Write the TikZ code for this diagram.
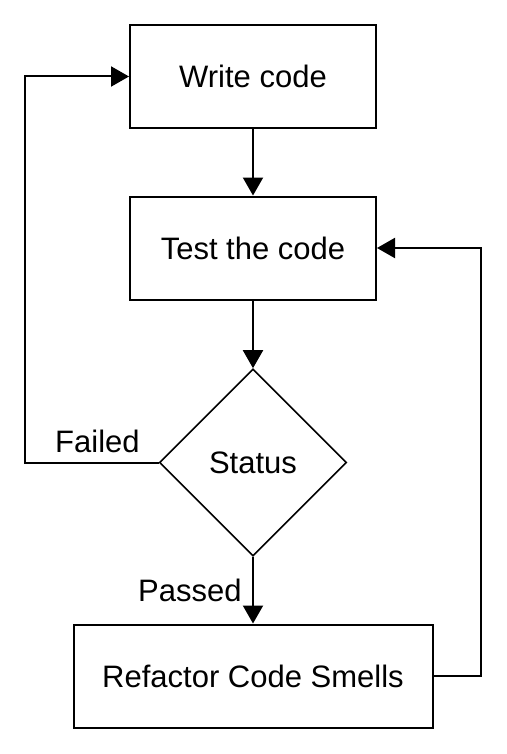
\documentclass[tikz,border=0pt]{standalone}
\usepackage{fontspec}
\setmainfont{Liberation Sans}
\usetikzlibrary{shapes.geometric,arrows.meta}
\begin{document}
\begin{tikzpicture}[x=1pt,y=-1pt,
  txt/.style={font=\fontsize{31}{36}\selectfont},
  box/.style={txt,draw,line width=2pt,minimum width=246pt,minimum height=103pt,inner sep=0pt},
  dia/.style={txt,draw,diamond,line width=1.6pt,minimum width=187pt,minimum height=187pt,inner sep=0pt},
  arr/.style={line width=2pt,-{Triangle[length=18pt,width=20pt]}},
  lbl/.style={txt,inner sep=0pt,anchor=base west}]
\useasboundingbox (0,0) rectangle (506,754);
\node[box] (write) at (253,76.5) {Write code};
\node[box] (test) at (253,248) {Test the code};
\node[dia] (status) at (253,462.5) {Status};
\node[box,minimum width=359pt] (refactor) at (253,676) {Refactor Code Smells};
\coordinate (L) at (25,76.5);
\coordinate (R) at (481,248);
\draw[arr] (write) -- (test);
\draw[arr] (test) -- (status);
\draw[arr] (status.south) -- (refactor.north);
\draw[arr] (status.west) -| (L) -- (write.west);
\draw[arr] (refactor.east) -| (R) -- (test.east);
\node[lbl] (failed) at (55,452) {Failed};
\node[lbl] (passed) at (138,601) {Passed};
\end{tikzpicture}
\end{document}
